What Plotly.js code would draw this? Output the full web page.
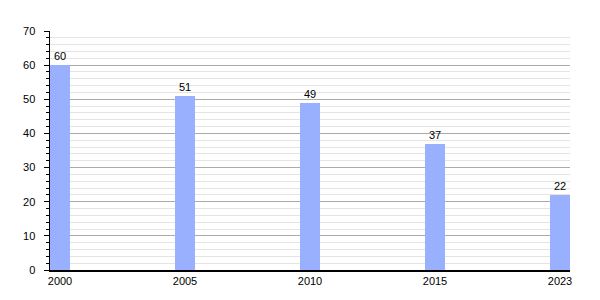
<!DOCTYPE html>
<html><head><meta charset="utf-8">
<script src="https://cdn.plot.ly/plotly-3.0.1.min.js"></script>
<style>html,body{margin:0;padding:0;background:#fff}#c{width:600px;height:300px}</style>
</head><body><div id="c"></div>
<script>
const years = ["2000","2005","2010","2015","2023"];
const values = [60,51,49,37,22];
const positions = years.map((y,i)=>i);
const trace = {
  type:'bar', x:positions, y:values, width:0.16,
  marker:{color:'#99b0ff', line:{width:0}},
  text:values.map(String), textposition:'outside', cliponaxis:false,
  textfont:{family:'Liberation Sans, Arial, sans-serif', size:11, color:'#000'},
  hoverinfo:'none'
};
const layout = {
  width:600, height:300,
  margin:{l:50, r:30, t:31, b:30},
  paper_bgcolor:'#fff', plot_bgcolor:'#fff',
  showlegend:false,
  font:{family:'Liberation Sans, Arial, sans-serif', size:11, color:'#000'},
  xaxis:{range:[-0.08,4.08], tickmode:'array', tickvals:positions, ticktext:years,
    showgrid:false, zeroline:false, showline:true, linecolor:'#000', linewidth:1.5,
    ticks:'', tickfont:{size:11}},
  yaxis:{range:[0,70], dtick:10, showgrid:true, gridcolor:'#aaaaaa', gridwidth:1,
    zeroline:false, showline:true, linecolor:'#000', linewidth:1.5,
    ticks:'outside', ticklen:5, tickcolor:'#000', tickfont:{size:11}, ticklabelstandoff:6,
    minor:{dtick:2, showgrid:true, gridcolor:'#e4e4e4', gridwidth:1, ticks:'outside', ticklen:3, tickcolor:'#000'}},
  bargap:0
};
Plotly.newPlot('c',[trace],layout,{staticPlot:true});
</script></body></html>
